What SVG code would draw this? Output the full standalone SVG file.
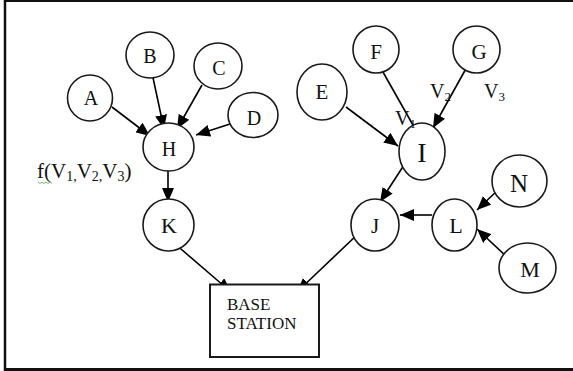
<svg xmlns="http://www.w3.org/2000/svg" width="573" height="371" viewBox="0 0 573 371">
<defs>
<marker id="ah" markerUnits="userSpaceOnUse" markerWidth="14" markerHeight="12" refX="14" refY="6" orient="auto">
<path d="M0,0 L14,6 L0,12 z" fill="#000"/>
</marker>
<style>
.n{fill:#fff;stroke:#1a1a1a;stroke-width:1.6}
.t{font-family:"Liberation Serif","Times New Roman",serif;fill:#111;text-anchor:middle}
.l{font-family:"Liberation Serif","Times New Roman",serif;fill:#111}
.c line{stroke:#000;stroke-width:1.6;marker-end:url(#ah)}
</style>
</defs>
<rect width="573" height="371" fill="#fff"/>
<g id="frame" stroke="#111" fill="none">
<line x1="4" y1="1" x2="573" y2="1" stroke-width="2"/>
<line x1="5" y1="0" x2="5" y2="371" stroke-width="2.5"/>
<line x1="4" y1="369.5" x2="573" y2="369.5" stroke-width="3"/>
</g>
<g class="c" id="connectors">
<line x1="112" y1="107" x2="150" y2="136"/>
<line x1="152" y1="73" x2="164" y2="129"/>
<line x1="202" y1="85" x2="177" y2="129"/>
<line x1="230" y1="124" x2="196" y2="135"/>
<line x1="168" y1="162" x2="168" y2="202"/>
<line x1="174" y1="243" x2="231" y2="292"/>
<line x1="346" y1="107" x2="398" y2="146"/>
<line x1="379" y1="65" x2="422" y2="141"/>
<line x1="468" y1="65" x2="433" y2="128"/>
<line x1="406" y1="162" x2="380" y2="202"/>
<line x1="359" y1="233" x2="297" y2="292"/>
<line x1="432" y1="215" x2="400" y2="215"/>
<line x1="500" y1="188" x2="477" y2="210"/>
<line x1="507" y1="257" x2="477" y2="229"/>
</g>
<g id="A"><ellipse class="n" cx="90" cy="98" rx="22.5" ry="23"/><text class="t" x="91" y="105" font-size="20">A</text></g>
<g id="B"><ellipse class="n" cx="150" cy="55" rx="24" ry="23"/><text class="t" x="150" y="63" font-size="20">B</text></g>
<g id="C"><ellipse class="n" cx="218" cy="66" rx="24" ry="23"/><text class="t" x="219" y="75" font-size="20">C</text></g>
<g id="D"><ellipse class="n" cx="253" cy="115" rx="25" ry="22.5"/><text class="t" x="254" y="125" font-size="20">D</text></g>
<g id="H"><ellipse class="n" cx="168.5" cy="147" rx="25.5" ry="24"/><text class="t" x="169" y="156" font-size="20">H</text></g>
<g id="K"><ellipse class="n" cx="168.5" cy="225" rx="25.5" ry="26"/><text class="t" x="169" y="233" font-size="22">K</text></g>
<g id="E"><ellipse class="n" cx="322" cy="92" rx="25" ry="28"/><text class="t" x="322" y="99" font-size="21">E</text></g>
<g id="F"><ellipse class="n" cx="376" cy="49.5" rx="23" ry="23.5"/><text class="t" x="376" y="59" font-size="21">F</text></g>
<g id="G"><ellipse class="n" cx="476.5" cy="49.5" rx="23.5" ry="23.5"/><text class="t" x="479" y="59" font-size="21">G</text></g>
<g id="I"><ellipse class="n" cx="422" cy="151.5" rx="23" ry="28.5"/><text class="t" x="422" y="162" font-size="28">I</text></g>
<g id="J"><ellipse class="n" cx="375" cy="225" rx="24" ry="26"/><text class="t" x="375" y="233" font-size="21">J</text></g>
<g id="L"><ellipse class="n" cx="454.5" cy="225" rx="22.5" ry="26"/><text class="t" x="456" y="233" font-size="22">L</text></g>
<g id="N"><ellipse class="n" cx="519.5" cy="181" rx="27.5" ry="26"/><text class="t" x="519" y="192" font-size="25">N</text></g>
<g id="M"><ellipse class="n" cx="527.5" cy="268" rx="28.5" ry="25"/><text class="t" x="530" y="277" font-size="22">M</text></g>
<g id="BASE">
<rect x="210" y="284.5" width="109" height="72.5" fill="#fff" stroke="#1a1a1a" stroke-width="2"/>
<text class="l" x="227" y="310" font-size="17">BASE</text>
<text class="l" x="227" y="328.5" font-size="17">STATION</text>
</g>
<g id="labels">
<text class="l" x="37" y="178" font-size="21">f(V<tspan font-size="14" dy="3">1,</tspan><tspan dy="-3">V</tspan><tspan font-size="14" dy="3">2,</tspan><tspan dy="-3">V</tspan><tspan font-size="14" dy="3">3</tspan><tspan dy="-3">)</tspan></text>
<polyline points="38,182 40,183.5 42,182 44,183.5 46,182 48,183.5 50,182 52,183.5" fill="none" stroke="#4caf50" stroke-width="0.8"/>
<text class="l" x="395" y="125" font-size="20">V<tspan font-size="13" dy="3">1</tspan></text>
<text class="l" x="430" y="98" font-size="20">V<tspan font-size="13" dy="3">2</tspan></text>
<text class="l" x="484" y="98" font-size="20">V<tspan font-size="13" dy="3">3</tspan></text>
</g>
</svg>
